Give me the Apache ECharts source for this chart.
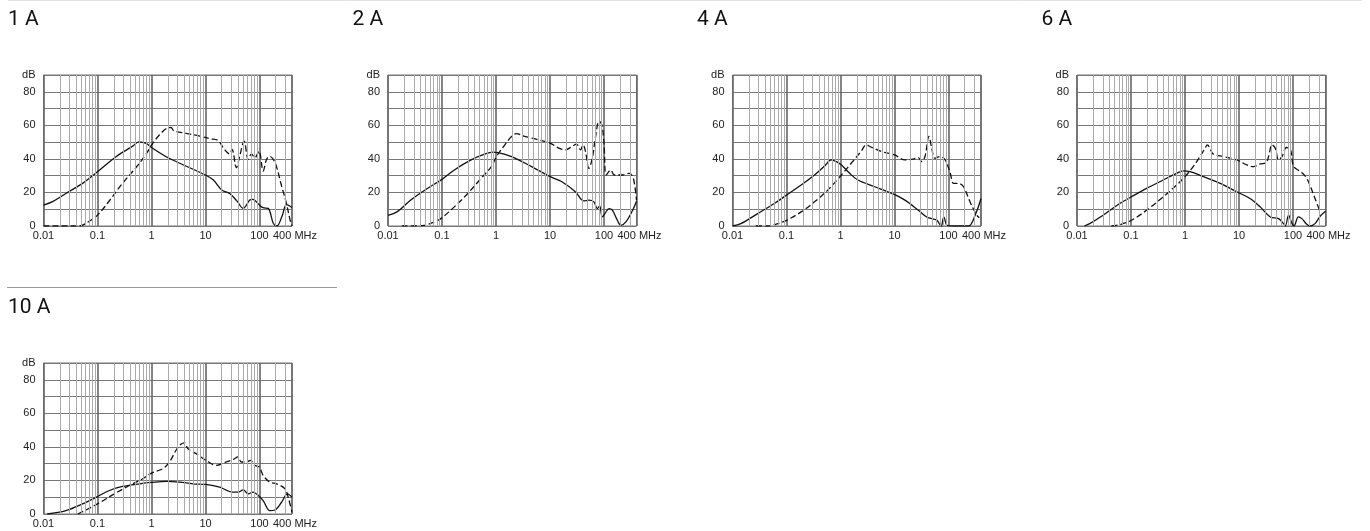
<!DOCTYPE html>
<html>
<head>
<meta charset="utf-8">
<script src="https://cdn.jsdelivr.net/npm/echarts@6/dist/echarts.min.js"></script>
<style>
html,body{margin:0;padding:0;background:#fff;}
#c{width:1370px;height:531px;}
</style>
</head>
<body>
<div id="c"></div>
<script>
// ---- data ----
const panelTitles = ['1 A', '2 A', '4 A', '6 A', '10 A'];
const xTickLabels = ['0.01', '0.1', '1', '10', '100'];
const xEndLabel = '400 MHz';
const yTickLabels = ['0', '20', '40', '60', '80', 'dB'];
const minorGridFreqs = [0.02,0.03,0.04,0.05,0.06,0.07,0.08,0.09,
  0.2,0.3,0.4,0.5,0.6,0.7,0.8,0.9, 2,3,4,5,6,7,8,9, 20,30,40,50,60,70,80,90, 200,300];

// solid line and dashed line, [MHz, dB]
const solid1A = [[0.01,12.5],[0.0147,14.5],[0.026,19.4],[0.053,25.4],[0.1,32.3],[0.22,41.3],[0.45,47.6],[0.58,50.2],[0.8,49.2],[1,46.8],[1.87,41.3],[2.9,38.3],[10,30.4],[14,27.4],[20,21.5],[28,19.4],[38,15],[50,10.5],[66,15.5],[75,15.9],[100,12.5],[116,10.9],[145,10.5],[180,1.6],[210,0],[260,5.6],[318,12.7],[400,11]];
const dashed1A = [[0.01,0],[0.046,0],[0.061,1.6],[0.1,6.5],[0.17,15.5],[0.29,25.4],[0.53,35.3],[0.81,43.3],[1,48.2],[1.4,54.2],[2.0,58.5],[2.3,58.7],[2.6,56.7],[4.4,55.2],[7.8,53.6],[12,52],[17,51],[22,46],[28,43],[31,45.6],[37.4,34.7],[43,41.7],[52,50.5],[62,39.7],[71,43],[82,40.7],[98,44.6],[117,32.7],[135,39.7],[155,41.5],[193,38],[256,24],[318,13],[366,4],[400,0]];

const solid2A = [[0.01,6.4],[0.0147,8.4],[0.0261,15.4],[0.0536,22.4],[0.1,27.8],[0.169,33.4],[0.346,39.4],[0.614,42.8],[0.879,44],[1.09,43.8],[1.94,41.4],[4.57,35.4],[10.1,29.4],[16.6,26.4],[29.5,20.4],[42.3,15],[52.5,15.4],[65,14.4],[75,10.4],[83,12],[93,5.4],[104,7.4],[124,10.4],[143,9.4],[177,3.4],[205,0.4],[254,2.4],[339,9.4],[400,14.8]];
const dashed2A = [[0.018,0],[0.0464,0.4],[0.0714,2.4],[0.095,4.4],[0.169,11.4],[0.30,19.4],[0.53,28.4],[0.82,35.4],[1.02,41.4],[1.46,48.4],[1.94,53.4],[2.4,55],[3.4,53.4],[6.1,51.4],[10.1,49.4],[14.5,46.4],[19.4,45.4],[25.6,47.4],[30.9,48.8],[36.8,45.4],[41,48.4],[45.5,44.4],[52.5,34.4],[60.7,40.4],[70,53.4],[81,62.4],[91,60.4],[100,49.4],[110,30.4],[134,33.4],[155,30.4],[221,30.4],[296,31.4],[350,28.4],[400,15.4]];

const solid4A = [[0.01,0],[0.0143,1.4],[0.0292,7.4],[0.0595,13.4],[0.1,18.4],[0.187,24.4],[0.33,30.4],[0.51,35.8],[0.67,39.4],[0.84,38.4],[1.04,36.4],[1.48,31.4],[2.1,27.4],[4.3,23.4],[8.9,19.4],[15.6,15.4],[27.6,9.4],[39.5,5.4],[49,4.4],[61,3.4],[73,0],[82,5.4],[94,0.4],[115,0],[152,0],[235,0],[311,6.4],[400,16.4]];
const dashed4A = [[0.027,0],[0.045,0],[0.069,1.4],[0.1,3.4],[0.187,8.4],[0.33,14.4],[0.58,21.4],[1.04,30.4],[1.58,37.4],[2.4,44.4],[3.0,48.4],[3.5,47.4],[5.7,44.4],[10,42.4],[15.6,39.4],[22,39.8],[27.6,40.8],[31.8,38.4],[36.7,41.4],[43.5,53.4],[48.9,46.4],[56,40.4],[69,41.4],[87,39.4],[108,31.4],[124,25.4],[152,25.4],[190,23.4],[250,14.4],[334,6.4],[372,5]];

const solid6A = [[0.0137,0],[0.0172,1.4],[0.0304,6.4],[0.062,13.4],[0.102,17.4],[0.194,22.4],[0.395,27.4],[0.70,31.4],[0.93,32.8],[1.24,32.4],[2.2,29.4],[4.5,25.4],[9.1,20.4],[16,16.4],[24.7,11.4],[37.9,5.4],[54,4.4],[67,1.4],[72,0],[83,6.4],[96,1.4],[104,0],[126,5.4],[146,4.4],[180,1],[207,0],[256,1.4],[318,5.8],[400,8.8]];
const dashed6A = [[0.0434,0],[0.062,0.8],[0.102,3.4],[0.194,9.4],[0.395,17.4],[0.70,24.4],[1.0,29.4],[1.42,35.4],[1.89,41.4],[2.36,46.4],[2.6,48.4],[2.9,46.4],[3.3,43],[5.2,41.4],[9.1,39.4],[13.9,36.4],[18.5,35.4],[24.7,37],[31.8,37.8],[35.3,41.4],[40.8,48.4],[47,46.4],[54,39.4],[62.6,41.4],[75.5,46.8],[90,45.4],[103,35.4],[138,32.4],[180,28.4],[256,16.4],[318,8.4]];

const solid10A = [[0.0117,0],[0.026,2],[0.053,6],[0.1,10.4],[0.166,14],[0.29,16.4],[0.6,18],[1.0,18.8],[1.87,19.4],[3.3,19],[5.8,18],[10.2,17.6],[18.3,16],[32,13],[40,13],[50,14.4],[62,12],[76,13],[95,11],[117,8],[155,2],[193,2.4],[256,7],[330,12],[400,10]];
const dashed10A = [[0.043,0],[0.061,2.4],[0.1,6],[0.19,11.4],[0.39,17],[0.69,21],[1.0,24.4],[1.62,27],[2.15,31],[2.85,38],[3.5,41.6],[4.1,42.4],[4.7,39],[6.7,36],[10.2,32],[15.8,29],[24.5,31],[32.5,32.4],[40,34],[46,31],[57,31],[68,32],[81,29],[99,28],[117,23],[155,19],[206,18],[297,15],[340,10],[400,1]];

const solidSeries = [solid1A, solid2A, solid4A, solid6A, solid10A];
const dashedSeries = [dashed1A, dashed2A, dashed4A, dashed6A, dashed10A];

// ---- layout ----
const colStep = 344.5;
const panelPos = [[0,0],[1,0],[2,0],[3,0],[0,1]]; // [col,row]
const rowStep = 288;
const FONT = '"Liberation Sans", Arial, Helvetica, sans-serif';
const TITLEFONT = 'Roboto, "Liberation Sans", sans-serif';

const chart = echarts.init(document.getElementById('c'), null, {renderer: 'canvas'});

const titles = [], grids = [], xAxes = [], yAxes = [], series = [];
function fmtX(v) {
  const l = Math.log10(v);
  const idx = Math.round(l) + 2;
  if (Math.abs(l - Math.round(l)) < 1e-6 && idx >= 0 && idx < xTickLabels.length) return xTickLabels[idx];
  return '';
}
function fmtY(v) {
  if (v === 90) return yTickLabels[5];
  if (v % 20 === 0) return yTickLabels[v / 20];
  return '';
}
panelTitles.forEach((t, i) => {
  const [c, r] = panelPos[i];
  const ox = c * colStep, oy = r * rowStep;
  titles.push({
    text: t, left: 8 + ox, top: 9 + oy, padding: 0,
    textStyle: {fontSize: 21, fontWeight: 'normal', color: '#111', fontFamily: TITLEFONT}
  });
  grids.push({
    left: 43.5 + ox, top: 75 + oy, width: 248.5, height: 151,
    show: true, borderColor: '#777', borderWidth: 1, containLabel: false
  });
  xAxes.push({
    type: 'log', gridIndex: i, logBase: 10, min: 0.01, max: 400,
    name: xEndLabel, nameLocation: 'end', nameGap: 3,
    nameTextStyle: {fontSize: 11, color: '#222', fontFamily: FONT, align: 'center', verticalAlign: 'top', padding: [4, 0, 0, 0]},
    axisLine: {show: false}, axisTick: {show: false},
    axisLabel: {formatter: fmtX, fontSize: 11, color: '#222', margin: 4, fontFamily: FONT,
      showMaxLabel: false, showMinLabel: true, hideOverlap: false},
    splitLine: {show: true, lineStyle: {color: '#666', width: 1.6}}
  });
  yAxes.push({
    type: 'value', gridIndex: i, min: 0, max: 90, interval: 10,
    axisLine: {show: false}, axisTick: {show: false},
    axisLabel: {formatter: fmtY, fontSize: 11, color: '#222', margin: 8, fontFamily: FONT},
    splitLine: {show: true, lineStyle: {color: '#777', width: 1}}
  });
  series.push({
    type: 'line', xAxisIndex: i, yAxisIndex: i, data: [], silent: true, z: 1,
    markLine: {
      silent: true, symbol: ['none', 'none'], animation: false,
      label: {show: false},
      lineStyle: {color: '#aaa', width: 1, type: 'solid'},
      emphasis: {disabled: true},
      data: minorGridFreqs.map(f => ({xAxis: f}))
    }
  });
  series.push({
    type: 'line', xAxisIndex: i, yAxisIndex: i, data: solidSeries[i], smooth: 0.35,
    showSymbol: false, symbol: 'none', z: 3,
    lineStyle: {color: '#111', width: 1.3, type: 'solid'}
  });
  series.push({
    type: 'line', xAxisIndex: i, yAxisIndex: i, data: dashedSeries[i], smooth: 0.35,
    showSymbol: false, symbol: 'none', z: 3,
    lineStyle: {color: '#111', width: 1.3, type: [6, 3]}
  });
});

chart.setOption({
  backgroundColor: '#fff',
  animation: false,
  title: titles,
  grid: grids,
  xAxis: xAxes,
  yAxis: yAxes,
  series: series,
  graphic: [
    {type: 'line', shape: {x1: 8, y1: 0.5, x2: 1362, y2: 0.5}, style: {stroke: '#e3e3e3', lineWidth: 1}, silent: true},
    {type: 'line', shape: {x1: 7, y1: 287.5, x2: 337, y2: 287.5}, style: {stroke: '#999', lineWidth: 1}, silent: true}
  ]
});
</script>
</body>
</html>
